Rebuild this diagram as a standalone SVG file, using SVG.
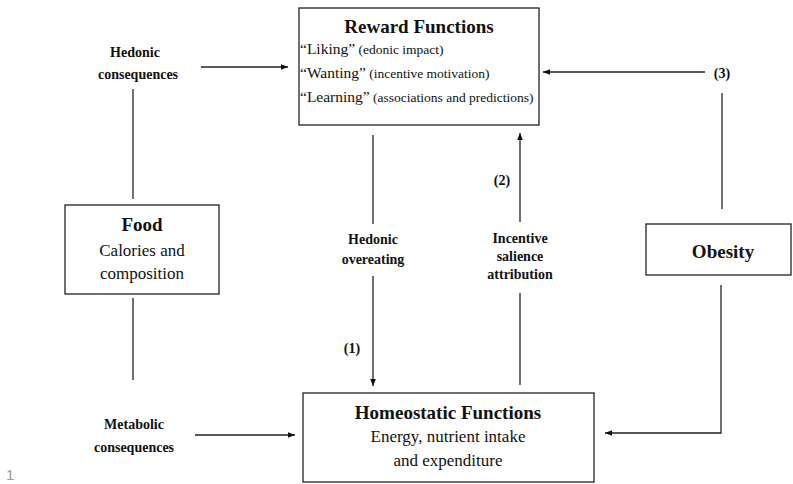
<svg xmlns="http://www.w3.org/2000/svg" width="793" height="484" viewBox="0 0 793 484">
<defs>
<marker id="ah" viewBox="0 0 10 10" refX="10" refY="5" markerWidth="7" markerHeight="7" markerUnits="userSpaceOnUse" orient="auto">
<path d="M0,1 L10,5 L0,9 Z" fill="#111"/>
</marker>
<style>
.box{fill:#fff;stroke:#222;stroke-width:1.3}
.ln{fill:none;stroke:#222;stroke-width:1.3}
text{font-family:"Liberation Serif","Times New Roman",serif;fill:#111}
.t{font-weight:bold;font-size:19px;text-anchor:middle}
.s{font-size:17px;text-anchor:middle}
.l{font-weight:bold;font-size:14px;text-anchor:middle}
.q{font-size:15.5px}
.p{font-size:13.5px}
</style>
</defs>
<rect width="793" height="484" fill="#fff"/>
<g id="connectors">
<line class="ln" x1="201" y1="67" x2="288" y2="67" marker-end="url(#ah)"/>
<line class="ln" x1="133" y1="89" x2="133" y2="199"/>
<line class="ln" x1="133" y1="298" x2="133" y2="380"/>
<line class="ln" x1="195" y1="435" x2="295" y2="435" marker-end="url(#ah)"/>
<line class="ln" x1="373" y1="135" x2="373" y2="224"/>
<line class="ln" x1="373" y1="276" x2="373" y2="386" marker-end="url(#ah)"/>
<line class="ln" x1="520" y1="385" x2="520" y2="293"/>
<line class="ln" x1="520" y1="222" x2="520" y2="133" marker-end="url(#ah)"/>
<line class="ln" x1="705" y1="72" x2="543" y2="72" marker-end="url(#ah)"/>
<line class="ln" x1="722" y1="93" x2="722" y2="209"/>
<polyline class="ln" points="721,285 721,433 605,433" marker-end="url(#ah)"/>
</g>
<g id="reward">
<rect class="box" x="299" y="8" width="240" height="117"/>
<text class="t" x="419" y="33">Reward Functions</text>
<text x="300" y="54"><tspan class="q">“Liking”</tspan><tspan class="p"> (edonic impact)</tspan></text>
<text x="300" y="78"><tspan class="q">“Wanting”</tspan><tspan class="p"> (incentive motivation)</tspan></text>
<text x="300" y="102"><tspan class="q">“Learning”</tspan><tspan class="p"> (associations and predictions)</tspan></text>
</g>
<g id="food">
<rect class="box" x="65" y="205" width="154" height="89"/>
<text class="t" x="142" y="231">Food</text>
<text class="s" x="142" y="256">Calories and</text>
<text class="s" x="142" y="279">composition</text>
</g>
<g id="homeostatic">
<rect class="box" x="303" y="393" width="291" height="89"/>
<text class="t" x="448" y="419">Homeostatic Functions</text>
<text class="s" x="448" y="442">Energy, nutrient intake</text>
<text class="s" x="448" y="466">and expenditure</text>
</g>
<g id="obesity">
<rect class="box" x="646" y="224" width="145" height="51"/>
<text class="t" x="723" y="258">Obesity</text>
</g>
<g id="labels">
<text class="l" x="135" y="57">Hedonic</text>
<text class="l" x="138" y="79">consequences</text>
<text class="l" x="134" y="429">Metabolic</text>
<text class="l" x="134" y="452">consequences</text>
<text class="l" x="373" y="244">Hedonic</text>
<text class="l" x="373" y="264">overeating</text>
<text class="l" x="520" y="243">Incentive</text>
<text class="l" x="520" y="261">salience</text>
<text class="l" x="520" y="279">attribution</text>
<text class="l" x="352" y="353">(1)</text>
<text class="l" x="502" y="185">(2)</text>
<text class="l" x="722" y="78">(3)</text>
</g>
<text x="6" y="480" style="font-family:'Liberation Sans',Arial,sans-serif;font-size:15px;fill:#999">1</text>
</svg>
